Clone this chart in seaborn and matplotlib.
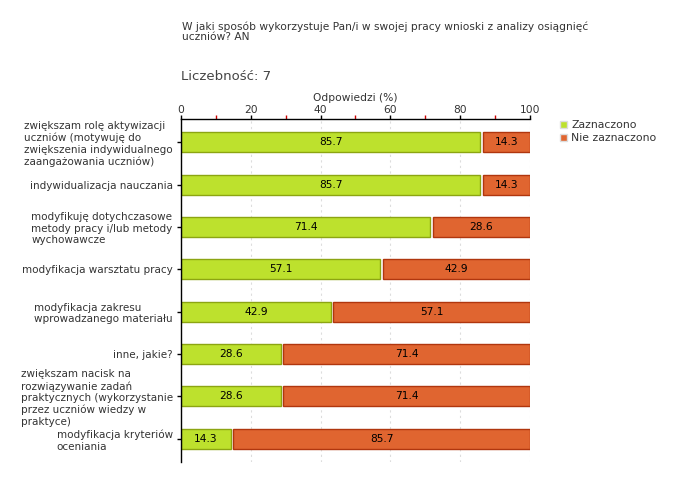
import matplotlib
matplotlib.use("Agg")
import matplotlib.pyplot as plt
import seaborn as sns
import pandas as pd
from matplotlib.ticker import MultipleLocator
from matplotlib.patches import Patch

# data
categories = [
    "zwiększam rolę aktywizacji\nuczniów (motywuję do\nzwiększenia indywidualnego\nzaangażowania uczniów)",
    "indywidualizacja nauczania",
    "modyfikuję dotychczasowe\nmetody pracy i/lub metody\nwychowawcze",
    "modyfikacja warsztatu pracy",
    "modyfikacja zakresu\nwprowadzanego materiału",
    "inne, jakie?",
    "zwiększam nacisk na\nrozwiązywanie zadań\npraktycznych (wykorzystanie\nprzez uczniów wiedzy w\npraktyce)",
    "modyfikacja kryteriów\noceniania",
]
zaznaczono = [85.7, 85.7, 71.4, 57.1, 42.9, 28.6, 28.6, 14.3]
nie_zaznaczono = [14.3, 14.3, 28.6, 42.9, 57.1, 71.4, 71.4, 85.7]

title = "W jaki sposób wykorzystuje Pan/i w swojej pracy wnioski z analizy osiągnięć\nuczniów? AN"
count_text = "Liczebność: 7"

green = "#bde12d"
green_edge = "#8ca512"
orange = "#e06530"
orange_edge = "#b0360e"
text_col = "#333333"

df = pd.DataFrame({"cat": categories, "z": zaznaczono, "n": nie_zaznaczono})
gap = 0.7
df["n_left"] = df["z"] + gap
df["n_w"] = df["n"] - gap

sns.set_style("white")
plt.rcParams["font.family"] = ["DejaVu Sans"]

fig = plt.figure(figsize=(6.8, 4.8), dpi=100)
ax = fig.add_axes([181 / 680, 1 - 462 / 480, 349 / 680, 343 / 480])

sns.barplot(data=df, x="z", y="cat", orient="h", color=green, saturation=1,
            width=0.47, edgecolor=green_edge, linewidth=1, ax=ax)
sns.barplot(data=df, x="n_w", y="cat", orient="h", color=orange, saturation=1,
            width=0.47, edgecolor=orange_edge, linewidth=1, left=df["n_left"].values, ax=ax)

for i, (z, n) in enumerate(zip(zaznaczono, nie_zaznaczono)):
    ax.text(z / 2, i, f"{z:.1f}", ha="center", va="center", fontsize=7.7, color="black")
    ax.text(z + gap + (n - gap) / 2, i, f"{n:.1f}", ha="center", va="center", fontsize=7.7, color="black")

ax.set_xlim(0, 100)
ax.set_ylim(7.55, -0.55)
ax.xaxis.set_major_locator(MultipleLocator(20))
ax.xaxis.set_minor_locator(MultipleLocator(10))
ax.xaxis.tick_top()
ax.xaxis.set_label_position("top")
ax.set_xlabel("Odpowiedzi (%)", fontsize=7.7, color=text_col, labelpad=3)
ax.set_ylabel("")
ax.tick_params(axis="x", which="major", length=3, width=1, color="black",
               labelsize=7.7, labelcolor=text_col, pad=0)
ax.tick_params(axis="x", which="minor", length=3, width=1, color="#cc0000")
ax.tick_params(axis="y", length=3, width=1, color="black", labelsize=7.5,
               labelcolor=text_col, pad=3, left=True)
for lab in ax.get_yticklabels():
    lab.set_multialignment("left")

ax.grid(axis="x", which="major", color="#dddddd", linestyle=(0, (2, 3)), linewidth=0.8)
ax.set_axisbelow(True)
for s in ["right", "bottom"]:
    ax.spines[s].set_visible(False)
for s in ["left", "top"]:
    ax.spines[s].set_color("black")
    ax.spines[s].set_linewidth(1)

handles = [Patch(facecolor=green, edgecolor="#dddddd", label="Zaznaczono"),
           Patch(facecolor=orange, edgecolor="#dddddd", label="Nie zaznaczono")]
fig.legend(handles=handles, loc="upper left", bbox_to_anchor=(556 / 680, 1 - 116 / 480),
           frameon=False, fontsize=7.8, handlelength=0.6, handleheight=0.6,
           handletextpad=0.4, labelspacing=0.25, labelcolor=text_col, borderaxespad=0)

fig.text(182 / 680, 1 - 21 / 480, title, fontsize=7.7, color=text_col, va="top", ha="left",
         linespacing=1.1)
fig.text(181 / 680, 1 - 77 / 480, count_text, fontsize=9.5, color="#444444", va="center", ha="left")

fig.savefig("out.png", dpi=100)
